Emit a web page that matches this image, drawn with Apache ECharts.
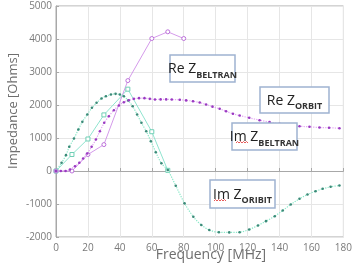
<!DOCTYPE html>
<html><head><meta charset="utf-8">
<script src="https://cdn.jsdelivr.net/npm/echarts@6/dist/echarts.min.js"></script>
<style>html,body{margin:0;padding:0;background:#fff}#c{width:355px;height:267px}</style>
</head><body><div id="c"></div>
<script>
// Im Z ORBIT (green dotted)
const imOrbitFreq = [0,3.5,6.25,8.3,11.25,14,16.5,19.6,22.5,25.4,28.5,31.25,34.4,37.3,40,42.5,45.2,48,50.8,53.5,56.5,59.4,62.5,66,70,75,80.5,86,91,96,102,108.5,115,121,126.5,131.5,137,142,147,152.5,157.5,162.5,167,172,177.5];
const imOrbit = [0,250,480,733,985,1257,1490,1712,1915,2066,2197,2267,2318,2338,2318,2267,2136,1963,1712,1460,1206,903,570,233,30,-445,-980,-1385,-1636,-1790,-1855,-1860,-1855,-1773,-1651,-1520,-1370,-1197,-1015,-843,-712,-612,-540,-479,-440];
// Re Z ORBIT (purple dotted)
const reOrbitFreq = [0,3,6,8.75,11.9,14.6,17,19.6,22.3,25,27.5,30.2,33.1,36.25,39.4,42.5,45.6,48.75,52,55.4,58.75,62,65.5,69,72.5,77.5,81.5,85.8,90,94,98,102.5,106.5,110.8,115,121,127.5,133.75,140,146,152.5,158.75,165,171,177.5];
const reOrbit = [0,0,0,45,145,248,379,530,733,955,1206,1460,1660,1842,1985,2085,2145,2187,2207,2207,2187,2166,2170,2170,2165,2160,2140,2115,2075,2015,1950,1885,1810,1733,1680,1612,1540,1480,1430,1388,1357,1339,1318,1309,1297];
// Beltran measured points
const beltranFreq = [0,10,20,30,45,60,70,80];
const reBeltran = [0,0,500,800,2740,4015,4218,4015];
const imBeltranFreq = [0,10,20,30,45,60,70];
const imBeltran = [0,500,970,1700,2480,1190,20];
const xTicks = [0,20,40,60,80,100,120,140,160,180];
const yTicks = [-2000,-1000,0,1000,2000,3000,4000,5000];

const zip = (a,b)=>a.map((v,i)=>[v,b[i]]);
const chart = echarts.init(document.getElementById('c'));
const axisLab = {color:'#7a7a7a',fontSize:10,fontFamily:'Open Sans'};
function box(x,y,w,h,pre,sub){
  return [{type:'rect',shape:{x:x,y:y,width:w,height:h},style:{fill:'#fff',stroke:'#9fb3d1',lineWidth:1.5},z:10},
  {type:'text',x:x+w/2,y:y+h/2-1,style:{text:'{a|'+pre+'}{b|'+sub+'}',align:'center',verticalAlign:'middle',
    rich:{a:{fontSize:14,fontFamily:'Open Sans',fill:'#222',lineHeight:18,verticalAlign:'bottom'},
          b:{fontSize:9,fontFamily:'Open Sans',fontWeight:'bold',fill:'#333',lineHeight:18,verticalAlign:'bottom',padding:[0,0,-3,0]}}},z:11}];
}
chart.setOption({
  animation:false,
  grid:{left:56,right:11,top:6,bottom:30,show:true,borderColor:'#a8a8a8',borderWidth:1},
  xAxis:{type:'value',min:0,max:180,interval:20,
    axisLine:{lineStyle:{color:'#a8a8a8'}},axisTick:{inside:true,length:3,lineStyle:{color:'#a8a8a8'}},
    splitLine:{lineStyle:{color:'#e6e6e6'}},axisLabel:Object.assign({margin:6,formatter:v=>xTicks.includes(v)?String(v):''},axisLab)},
  yAxis:{type:'value',min:-2000,max:5000,interval:1000,
    axisLine:{show:true,lineStyle:{color:'#a8a8a8'}},axisTick:{show:true,inside:true,length:3,lineStyle:{color:'#a8a8a8'}},
    splitLine:{lineStyle:{color:'#e6e6e6'}},axisLabel:Object.assign({margin:4,formatter:v=>yTicks.includes(v)?String(v):''},axisLab)},
  series:[
    {type:'line',data:zip(imBeltranFreq,imBeltran),symbol:'rect',symbolSize:4,showSymbol:true,
      lineStyle:{color:'#8fe4cf',width:1},itemStyle:{color:'#fff',borderColor:'#6fcfb5',borderWidth:1},z:3},
    {type:'line',data:zip(beltranFreq,reBeltran),symbol:'circle',symbolSize:4,
      lineStyle:{color:'#d49aea',width:1},itemStyle:{color:'#fff',borderColor:'#bb6fd9',borderWidth:1},z:3},
    {type:'line',data:zip(imOrbitFreq,imOrbit),symbol:'circle',symbolSize:2.6,smooth:0.3,
      lineStyle:{color:'#8ae8c8',width:1.2,type:'dotted'},itemStyle:{color:'#3b8a78',borderWidth:0},z:4},
    {type:'line',data:zip(reOrbitFreq,reOrbit),symbol:'circle',symbolSize:2.6,smooth:0.3,
      lineStyle:{color:'#e2a6f2',width:1.2,type:'dotted'},itemStyle:{color:'#9a3ac2',borderWidth:0},z:4}
  ],
  graphic:[
    ...box(170,55,65,27,'Re Z','BELTRAN'),
    ...box(260,87,69,26,'Re Z','ORBIT'),
    ...box(232,123,65,27,'Im Z','BELTRAN'),
    ...box(210,180,65,28,'Im Z','ORIBIT'),
    {type:'polyline',shape:{points:[[236,143],[237.5,141.5],[239,143],[240.5,141.5],[242,143],[243.5,141.5],[245,143],[246.5,141.5],[248,143]]},style:{stroke:'#e03030',lineWidth:0.8,fill:null},z:12},
    {type:'polyline',shape:{points:[[214,201],[215.5,199.5],[217,201],[218.5,199.5],[220,201],[221.5,199.5],[223,201],[224.5,199.5],[226,201]]},style:{stroke:'#e03030',lineWidth:0.8,fill:null},z:12},
    {type:'text',x:211,y:255,style:{text:'Frequency [MHz]',align:'center',verticalAlign:'middle',fontSize:14,fontFamily:'Open Sans',fill:'#6e6e6e'}},
    {type:'text',x:13,y:111,rotation:Math.PI/2,style:{text:'Impedance [Ohms]',align:'center',verticalAlign:'middle',fontSize:13,fontFamily:'Open Sans',fill:'#6e6e6e'}}
  ]
});
</script></body></html>
